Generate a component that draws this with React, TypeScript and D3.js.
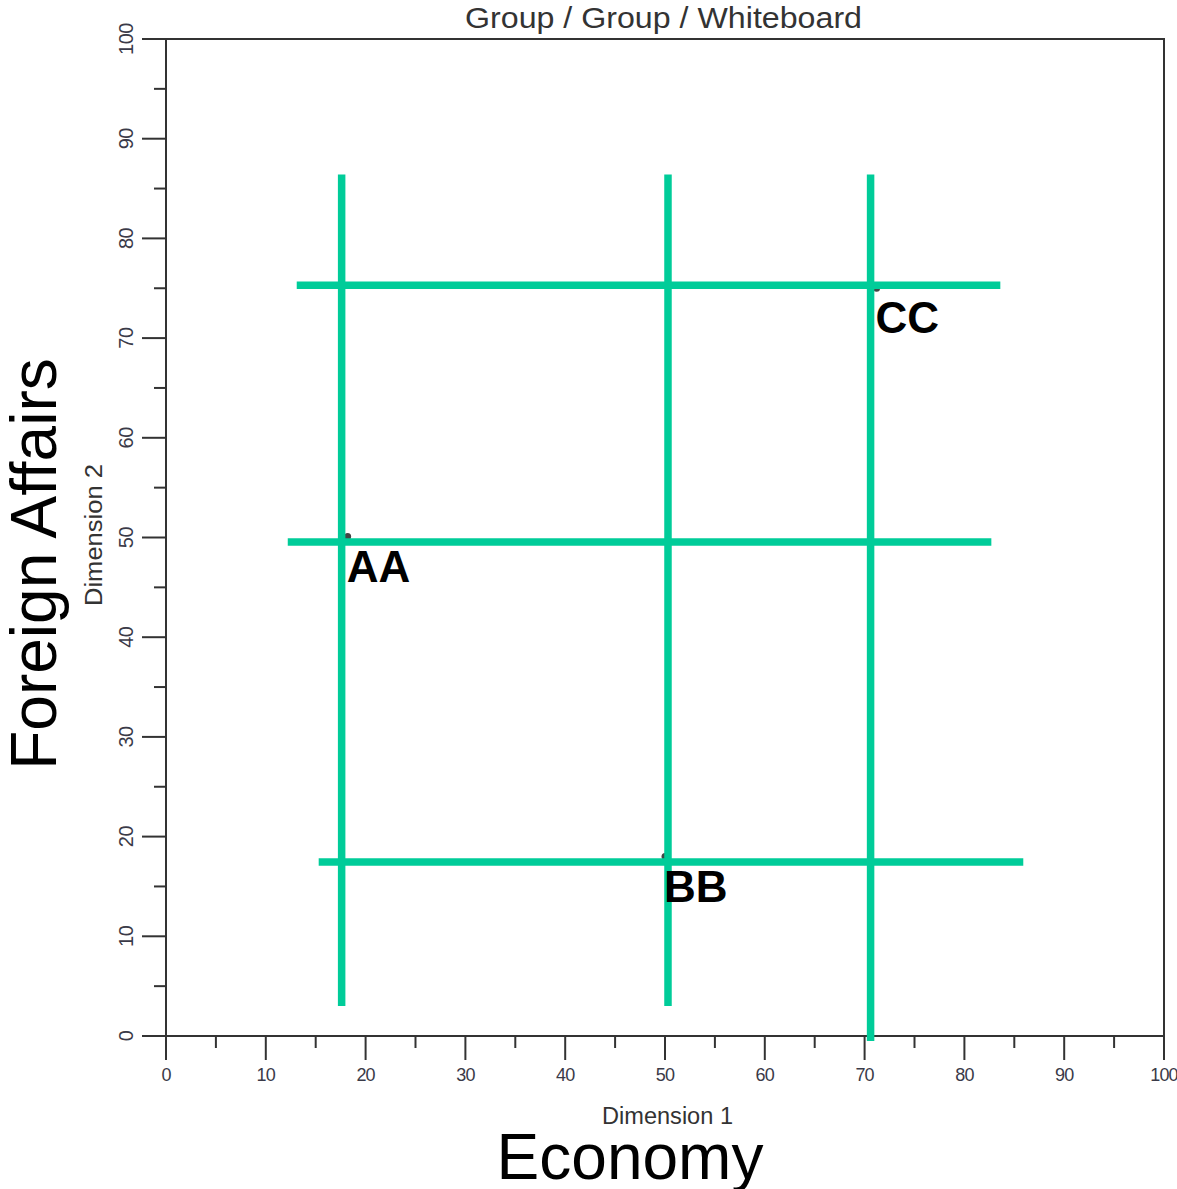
import React from "react";
import * as d3 from "d3";

const W = 1177;
const H = 1189;

// Axis domains and ticks
const xDomain = [0, 100];
const yDomain = [0, 100];
const majorTicks = [0, 10, 20, 30, 40, 50, 60, 70, 80, 90, 100];
const minorTicks = [5, 15, 25, 35, 45, 55, 65, 75, 85, 95];

// Labelled points
const pointNames = ["AA", "BB", "CC"];
const pointX = [18.2, 50.0, 71.2];
const pointY = [50.1, 18.0, 75.0];

// Whiteboard strokes (data coordinates)
const strokeNames = ["V1", "V2", "V3", "H1", "H2", "H3"];
const strokeX1 = [17.6, 50.3, 70.6, 13.1, 12.2, 15.3];
const strokeX2 = [17.6, 50.3, 70.6, 83.6, 82.7, 85.9];
const strokeY1 = [86.4, 86.4, 86.4, 75.3, 49.55, 17.45];
const strokeY2 = [3.0, 3.0, -0.5, 75.3, 49.55, 17.45];

const titleText = "Group / Group / Whiteboard";
const xAxisText = "Dimension 1";
const yAxisText = "Dimension 2";
const bigXText = "Economy";
const bigYText = "Foreign Affairs";

export default function App() {
  const x = d3.scaleLinear().domain(xDomain).range([166, 1164]);
  const y = d3.scaleLinear().domain(yDomain).range([1036, 39]);
  const axisColor = "#333";
  const green = "#00CC99";
  const font = "Arial, 'Liberation Sans', sans-serif";
  const x0 = x(0), x1 = x(100), y0 = y(0), y1 = y(100);

  return (
    <svg
      width={W}
      height={H}
      style={{ position: "absolute", left: 0, top: 0, background: "#fff" }}
      fontFamily={font}
    >
      <rect x={0} y={0} width={W} height={H} fill="#fff" />
      {/* frame */}
      <rect x={x0} y={y1} width={x1 - x0} height={y0 - y1} fill="none" stroke={axisColor} strokeWidth={2} />
      {/* major ticks */}
      {majorTicks.map((t) => (
        <g key={"mx" + t}>
          <line x1={x(t)} x2={x(t)} y1={y0} y2={y0 + 24} stroke={axisColor} strokeWidth={2} />
          <line x1={x0} x2={x0 - 24} y1={y(t)} y2={y(t)} stroke={axisColor} strokeWidth={2} />
          <text
            x={x(t)}
            y={1081}
            textAnchor="middle"
            fontSize={18}
            fill="#3a3a48"
            letterSpacing={-0.8}
          >
            {t}
          </text>
          <text
            transform={`translate(133, ${y(t)}) rotate(-90)`}
            textAnchor="middle"
            fontSize={20}
            fill="#3a3a48"
            letterSpacing={-0.5}
          >
            {t}
          </text>
        </g>
      ))}
      {minorTicks.map((t) => (
        <g key={"mn" + t}>
          <line x1={x(t)} x2={x(t)} y1={y0} y2={y0 + 12} stroke={axisColor} strokeWidth={2} />
          <line x1={x0} x2={x0 - 12} y1={y(t)} y2={y(t)} stroke={axisColor} strokeWidth={2} />
        </g>
      ))}
      {/* title and axis titles */}
      <text x={663.5} y={28} textAnchor="middle" fontSize={29} fill="#333" textLength={397} lengthAdjust="spacingAndGlyphs">
        {titleText}
      </text>
      <text x={667.5} y={1124} textAnchor="middle" fontSize={23} fill="#333" textLength={131} lengthAdjust="spacingAndGlyphs">
        {xAxisText}
      </text>
      <text
        transform={`translate(102, 535) rotate(-90)`}
        textAnchor="middle"
        fontSize={23}
        fill="#333"
        textLength={142}
        lengthAdjust="spacingAndGlyphs"
      >
        {yAxisText}
      </text>
      {/* point markers */}
      {pointNames.map((n, i) => (
        <circle key={"p" + n} cx={x(pointX[i])} cy={y(pointY[i])} r={3.5} fill="#444" />
      ))}
      {/* whiteboard strokes */}
      {strokeNames.map((n, i) => (
        <line
          key={n}
          x1={x(strokeX1[i])}
          x2={x(strokeX2[i])}
          y1={y(strokeY1[i])}
          y2={y(strokeY2[i])}
          stroke={green}
          strokeWidth={7.5}
        />
      ))}
      {/* point labels */}
      {pointNames.map((n, i) => (
        <text
          key={"l" + n}
          x={x(pointX[i]) - 1}
          y={y(pointY[i]) + 45}
          fontSize={44}
          fontWeight="bold"
          fill="#000"
        >
          {n}
        </text>
      ))}
      {/* big overlay labels */}
      <text x={630} y={1179} textAnchor="middle" fontSize={64} fill="#000">
        {bigXText}
      </text>
      <text transform={`translate(56, 564) rotate(-90)`} textAnchor="middle" fontSize={64} fill="#000">
        {bigYText}
      </text>
    </svg>
  );
}
